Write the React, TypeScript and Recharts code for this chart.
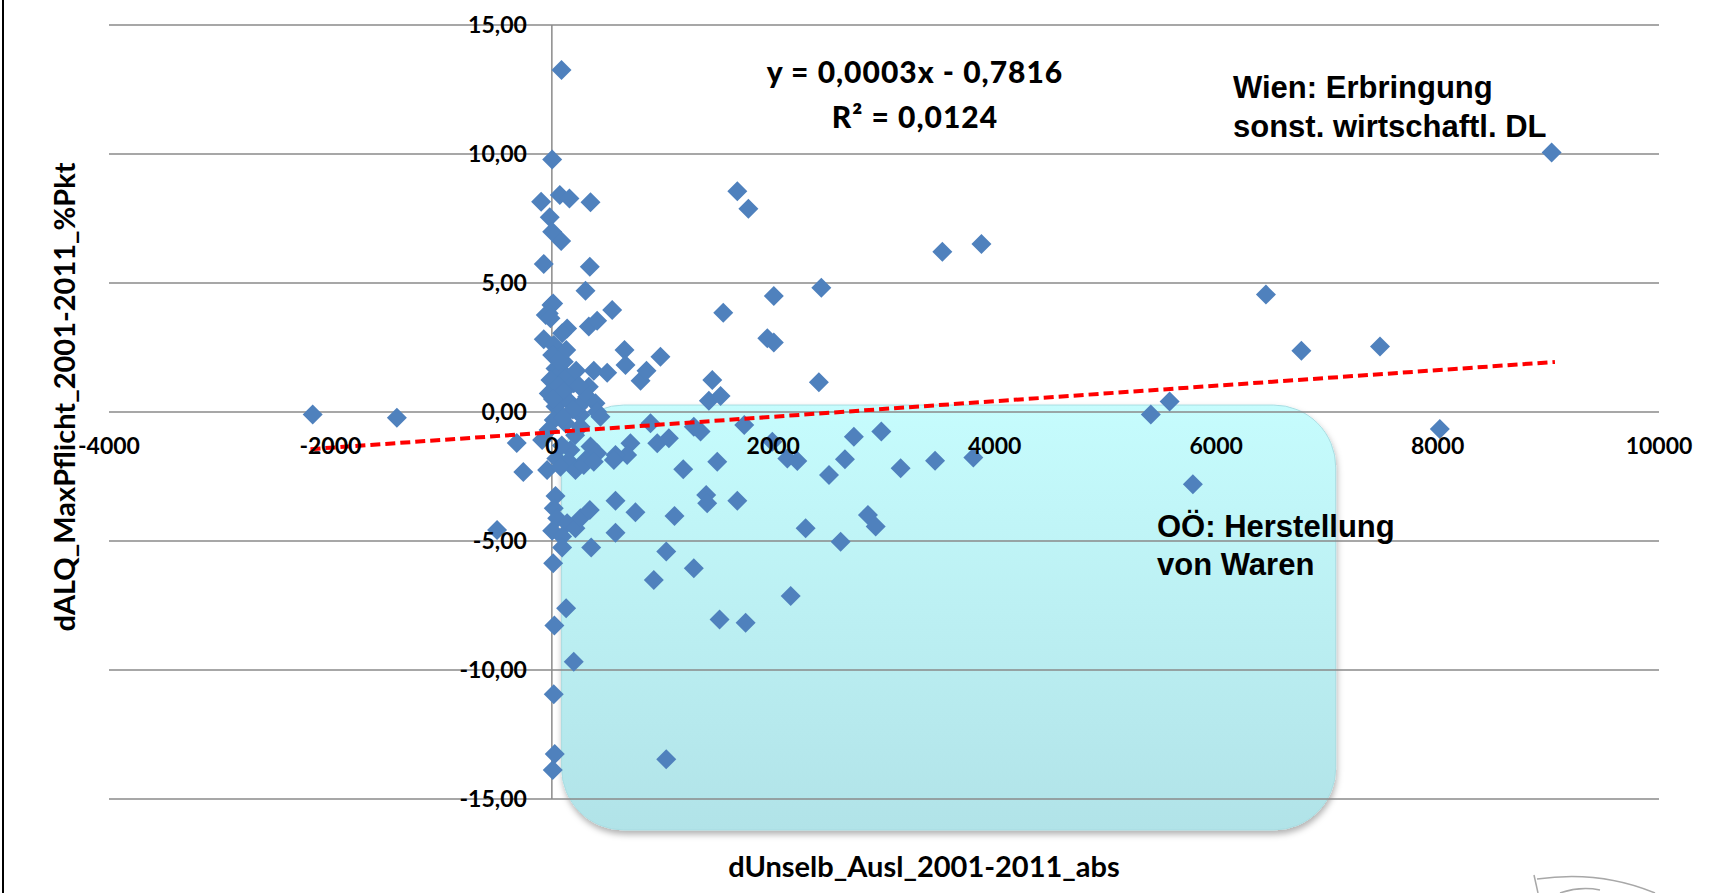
import React from 'react';
import {
  ScatterChart, Scatter, XAxis, YAxis, ReferenceLine, ReferenceArea, ReferenceDot
} from 'recharts';

// dUnselb_Ausl (x) vs dALQ_MaxPflicht (y)
const leftPoints: [number, number][] = [
  [-2160, -0.1], [-1400, -0.22], [-495, -4.57], [-317, -1.2], [-258, -2.33], [-88, -1.09],
];

const upperColumn: [number, number][] = [
  [87, 13.26], [3, 9.79], [-97, 8.15], [72, 8.41], [159, 8.28], [349, 8.13],
  [-19, 7.55], [3, 6.99], [84, 6.63], [-73, 5.74], [343, 5.63], [304, 4.7],
  [-4, 4.15], [-55, 3.76], [12, 4.21], [-28, 3.82], [-12, 3.63],
];

const nearZero: [number, number][] = [
  [545, 3.95], [334, 3.31], [409, 3.54], [138, 3.24], [93, 3.05], [-73, 2.82],
  [17, 2.6], [3, 2.21], [108, 1.95], [33, 1.69], [62, 1.43], [138, 1.37],
  [-13, 1.24], [198, 1.11], [334, 0.98], [379, 1.6], [500, 1.52], [656, 2.4],
  [665, 1.82], [981, 2.14], [801, 1.21], [855, 1.6], [-28, 0.72], [62, 0.59],
  [319, 0.59], [394, 0.34], [409, 0.01], [439, -0.18], [258, -0.12], [33, 0.21],
  [17, -0.31], [123, -0.44], [258, -0.57], [891, -0.44], [952, -1.21], [1057, -1.02],
  [710, -1.21], [680, -1.67], [575, -1.67], [349, -1.34], [409, -1.6], [168, -1.47],
  [60, 1.0], [110, 0.8], [170, 0.35], [210, -0.9], [90, -1.3], [40, -1.8],
  [150, -1.9], [240, 0.2], [220, 1.6], [130, 2.4], [10, 0.5], [-30, -0.7],
  [190, 0.1], [60, 2.0], [250, 1.0], [100, -0.2], [-43, -2.25], [78, -2.12],
  [213, -2.25], [304, -1.86], [288, -2.05], [379, -1.93], [560, -1.86],
];

const lowerColumn: [number, number][] = [
  [33, -3.26], [17, -3.73], [48, -4.12], [3, -4.6], [138, -4.31], [213, -4.51],
  [258, -4.12], [343, -3.8], [93, -4.83], [93, -5.25], [575, -3.44], [755, -3.89],
  [575, -4.68], [355, -5.25], [12, -5.86], [129, -7.61], [23, -8.28], [198, -9.68],
  [17, -10.94], [26, -13.26], [8, -13.88],
];

const midSpread: [number, number][] = [
  [1548, 3.85], [1449, 1.24], [1418, 0.44], [1524, 0.62], [1675, 8.56], [1775, 7.88],
  [2005, 4.5], [2434, 4.82], [1946, 2.86], [2005, 2.69], [2412, 1.15], [3527, 6.21],
  [3880, 6.51], [1738, -0.5], [1991, -1.15], [2127, -1.8], [2217, -1.9], [2728, -0.96],
  [2976, -0.76], [2647, -1.83], [2503, -2.44], [3150, -2.18], [3461, -1.89], [3807, -1.76],
  [2292, -4.51], [2608, -5.03], [2855, -3.99], [2925, -4.44], [2157, -7.13],
  [1282, -0.57], [1343, -0.76], [1187, -2.22], [1494, -1.93], [1108, -4.03], [1394, -3.22],
  [1403, -3.54], [1675, -3.44], [1033, -5.41], [1282, -6.06], [921, -6.51], [1515, -8.04],
  [1750, -8.17], [1033, -13.46],
];

const rightPoints: [number, number][] = [
  [5410, -0.1], [5580, 0.41], [5790, -2.8], [6450, 4.55], [6770, 2.37], [7480, 2.54],
  [8020, -0.66], [9030, 10.06],
];

// trendline end points (Excel linear trend y = 0,0003x - 0,7816)
const trendLine = [
  { x: -2180, y: -1.44 },
  { x: 9060, y: 1.94 },
];

const xTicks = [-4000, -2000, 0, 2000, 4000, 6000, 8000, 10000];
const xTickLabels = ['-4000', '-2000', '0', '2000', '4000', '6000', '8000', '10000'];
const yTicks = [15, 10, 5, 0, -5, -10, -15];
const yTickLabels = ['15,00', '10,00', '5,00', '0,00', '-5,00', '-10,00', '-15,00'];

// highlighted "OÖ: Herstellung von Waren" box, in data units
const highlightBox = { x1: 88, x2: 7080, y1: 0.27, y2: -16.2 };

const points = [...leftPoints, ...upperColumn, ...nearZero, ...lowerColumn, ...midSpread, ...rightPoints]
  .map(([x, y]) => ({ x, y }));

const BLUE = '#4f81bd';
const GRID = '#8a8a8a';
const CAL = 'Lato, "Open Sans", sans-serif';
const ARIAL = '"Liberation Sans", Arial, sans-serif';

const Diamond = (props: any) => {
  const { cx, cy } = props;
  if (cx == null || cy == null) return <g />;
  const r = 10;
  return <path d={`M${cx},${cy - r}L${cx + r},${cy}L${cx},${cy + r}L${cx - r},${cy}Z`} fill={BLUE} />;
};

const Highlight = (props: any) => {
  const { x, y, width, height } = props;
  return (
    <g>
      <defs>
        <linearGradient id="oeFill" x1="0" y1="0" x2="0" y2="1">
          <stop offset="0%" stopColor="#c6fcfd" />
          <stop offset="100%" stopColor="#b1e3e8" />
        </linearGradient>
        <filter id="oeShadow" x="-5%" y="-5%" width="110%" height="115%">
          <feDropShadow dx="1" dy="4" stdDeviation="3" floodColor="#000" floodOpacity="0.3" />
        </filter>
      </defs>
      <rect x={x} y={y} width={width} height={height} rx={62} ry={62}
        fill="url(#oeFill)" stroke="#a9dde2" strokeWidth={1} filter="url(#oeShadow)" />
    </g>
  );
};

const tickStyle = { fill: '#000', fontSize: 23, fontWeight: 700, fontFamily: CAL };

export default function App() {
  return (
    <div style={{ position: 'absolute', left: 0, top: 0, width: 1729, height: 893, background: '#fff' }}>
      <ScatterChart width={1729} height={893} margin={{ top: 25, right: 70, bottom: 94, left: 109 }}>
        <XAxis type="number" dataKey="x" domain={[-4000, 10000]} hide />
        <YAxis type="number" dataKey="y" domain={[-15, 15]} hide />
        <ReferenceArea {...highlightBox} ifOverflow="visible" shape={Highlight} />
        {yTicks.map((v) => (
          <ReferenceLine key={`gy${v}`} y={v} stroke={GRID} strokeWidth={1.5} />
        ))}
        <ReferenceLine x={0} stroke={GRID} strokeWidth={1.5} />
        <Scatter data={points} shape={Diamond} isAnimationActive={false} />
        <Scatter data={trendLine} shape={() => <g />} isAnimationActive={false}
          line={{ stroke: '#ff0000', strokeWidth: 4, strokeDasharray: '10 5' }} />
        {xTicks.map((v, i) => (
          <ReferenceDot key={`xt${v}`} x={v} y={0} r={0} fill="none" stroke="none" ifOverflow="visible"
            label={{ value: xTickLabels[i], position: 'bottom', offset: 26, ...tickStyle }} />
        ))}
        {yTicks.map((v, i) => (
          <ReferenceDot key={`yt${v}`} x={0} y={v} r={0} fill="none" stroke="none" ifOverflow="visible"
            label={{ value: yTickLabels[i], position: 'left', offset: 25, ...tickStyle }} />
        ))}
      </ScatterChart>
      <svg width={1729} height={893} style={{ position: 'absolute', left: 0, top: 0, pointerEvents: 'none' }}>
        <line x1={3} y1={0} x2={3} y2={893} stroke="#000" strokeWidth={2} />
        <g fontFamily={CAL} fontWeight={900} fill="#000">
          <text x={915} y={83} fontSize={30} textAnchor="middle" letterSpacing={1}>y = 0,0003x - 0,7816</text>
          <text x={915} y={128} fontSize={30} textAnchor="middle" letterSpacing={1}>R² = 0,0124</text>
        </g>
        <g fontFamily={CAL} fontWeight={700} fill="#000">
          <text x={924} y={877} fontSize={29} textAnchor="middle">dUnselb_Ausl_2001-2011_abs</text>
          <text transform="translate(75,397) rotate(-90)" fontSize={29} textAnchor="middle">dALQ_MaxPflicht_2001-2011_%Pkt</text>
        </g>
        <g fontFamily={ARIAL} fontWeight={700} fill="#000" fontSize={31}>
          <text x={1233} y={98}>Wien: Erbringung</text>
          <text x={1233} y={137}>sonst. wirtschaftl. DL</text>
          <text x={1157} y={537}>OÖ: Herstellung</text>
          <text x={1157} y={575}>von Waren</text>
        </g>
        <g stroke="#a8a8a8" strokeWidth={1.5} fill="none">
          <path d="M1534,875 L1538,893" />
          <path d="M1537,879 Q1600,870 1655,893" />
          <path d="M1560,893 Q1580,886 1600,890" />
        </g>
      </svg>
    </div>
  );
}
